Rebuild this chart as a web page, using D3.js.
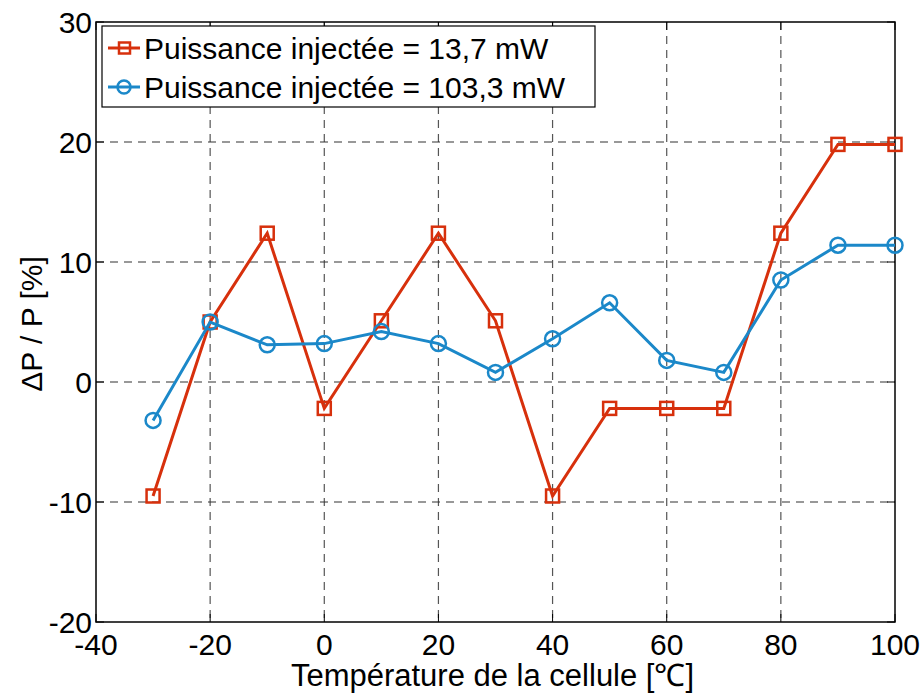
<!DOCTYPE html>
<html><head><meta charset="utf-8">
<script src="https://cdn.jsdelivr.net/npm/d3@7"></script>
<style>body{margin:0;background:#fff}svg{display:block}text{font-family:Arial,"Liberation Sans",sans-serif;fill:#000}</style>
</head><body><svg id="c" width="924" height="693"></svg>
<script>
const temps = [-30,-20,-10,0,10,20,30,40,50,60,70,80,90,100];
const seriesLow = [-9.5,5.0,12.4,-2.2,5.1,12.4,5.1,-9.5,-2.2,-2.2,-2.2,12.4,19.8,19.8];
const seriesHigh = [-3.2,5.0,3.1,3.2,4.2,3.2,0.8,3.6,6.6,1.8,0.8,8.5,11.4,11.4];
const xTicks = [-40,-20,0,20,40,60,80,100];
const yTicks = [-20,-10,0,10,20,30];
const legendLabels = ["Puissance injectée = 13,7 mW","Puissance injectée = 103,3 mW"];
const colors = ["#d7300c","#1b88c9"];

const svg = d3.select("#c");
const L=96,R=895,T=22,B=622;
const x = d3.scaleLinear().domain([-40,100]).range([L,R]);
const y = d3.scaleLinear().domain([-20,30]).range([B,T]);

// grid
const g = svg.append("g");
xTicks.slice(1,-1).forEach(t=>g.append("line").attr("x1",x(t)).attr("x2",x(t)).attr("y1",T).attr("y2",B)
  .attr("stroke","#555").attr("stroke-width",1.2).attr("stroke-dasharray","8,6"));
yTicks.slice(1,-1).forEach(t=>g.append("line").attr("x1",L).attr("x2",R).attr("y1",y(t)).attr("y2",y(t))
  .attr("stroke","#333").attr("stroke-width",1.2).attr("stroke-dasharray","8,6"));

// inward ticks
xTicks.forEach(t=>{
  g.append("line").attr("x1",x(t)).attr("x2",x(t)).attr("y1",B).attr("y2",B-8).attr("stroke","#000");
  g.append("line").attr("x1",x(t)).attr("x2",x(t)).attr("y1",T).attr("y2",T+8).attr("stroke","#000");
});
yTicks.forEach(t=>{
  g.append("line").attr("x1",L).attr("x2",L+8).attr("y1",y(t)).attr("y2",y(t)).attr("stroke","#000");
  g.append("line").attr("x1",R).attr("x2",R-8).attr("y1",y(t)).attr("y2",y(t)).attr("stroke","#000");
});
svg.append("rect").attr("x",L).attr("y",T).attr("width",R-L).attr("height",B-T)
  .attr("fill","none").attr("stroke","#000").attr("stroke-width",1.5);

// tick labels
yTicks.forEach(t=>svg.append("text").attr("x",L-4).attr("y",y(t)+11).attr("text-anchor","end")
  .attr("font-size",30).text(t));
xTicks.forEach(t=>svg.append("text").attr("x",x(t)).attr("y",B+33)
  .attr("text-anchor","middle").attr("font-size",30).text(t));

// axis titles
svg.append("text").attr("x",(L+R)/2-3).attr("y",B+64)
  .attr("text-anchor","middle").attr("font-size",31).text("Température de la cellule [℃]");
svg.append("text").attr("transform",`translate(42,324) rotate(-90)`)
  .attr("text-anchor","middle").attr("font-size",30).text("ΔP / P [%]");

// series
const line = d3.line().x((d,i)=>x(temps[i])).y(d=>y(d));
[seriesLow,seriesHigh].forEach((s,k)=>{
  svg.append("path").datum(s).attr("d",line).attr("fill","none").attr("stroke",colors[k]).attr("stroke-width",3);
  const m = svg.append("g");
  s.forEach((v,i)=>{
    if(k===0) m.append("rect").attr("x",x(temps[i])-6.5).attr("y",y(v)-6.5).attr("width",13).attr("height",13)
      .attr("fill","none").attr("stroke",colors[k]).attr("stroke-width",2.5);
    else m.append("circle").attr("cx",x(temps[i])).attr("cy",y(v)).attr("r",7.5)
      .attr("fill","none").attr("stroke",colors[k]).attr("stroke-width",2.5);
  });
});

// legend
const lg = svg.append("g");
lg.append("rect").attr("x",102).attr("y",26).attr("width",493).attr("height",81)
  .attr("fill","#fff").attr("stroke","#000").attr("stroke-width",1.2);
legendLabels.forEach((lab,k)=>{
  const cy = 48+k*39;
  lg.append("line").attr("x1",108).attr("x2",140).attr("y1",cy).attr("y2",cy).attr("stroke",colors[k]).attr("stroke-width",3);
  if(k===0) lg.append("rect").attr("x",119).attr("y",cy-5.5).attr("width",11).attr("height",11)
    .attr("fill","none").attr("stroke",colors[k]).attr("stroke-width",2.5);
  else lg.append("circle").attr("cx",124).attr("cy",cy).attr("r",6.5).attr("fill","none").attr("stroke",colors[k]).attr("stroke-width",2.5);
  lg.append("text").attr("x",144).attr("y",cy+11).attr("font-size",30).text(lab);
});
</script></body></html>
